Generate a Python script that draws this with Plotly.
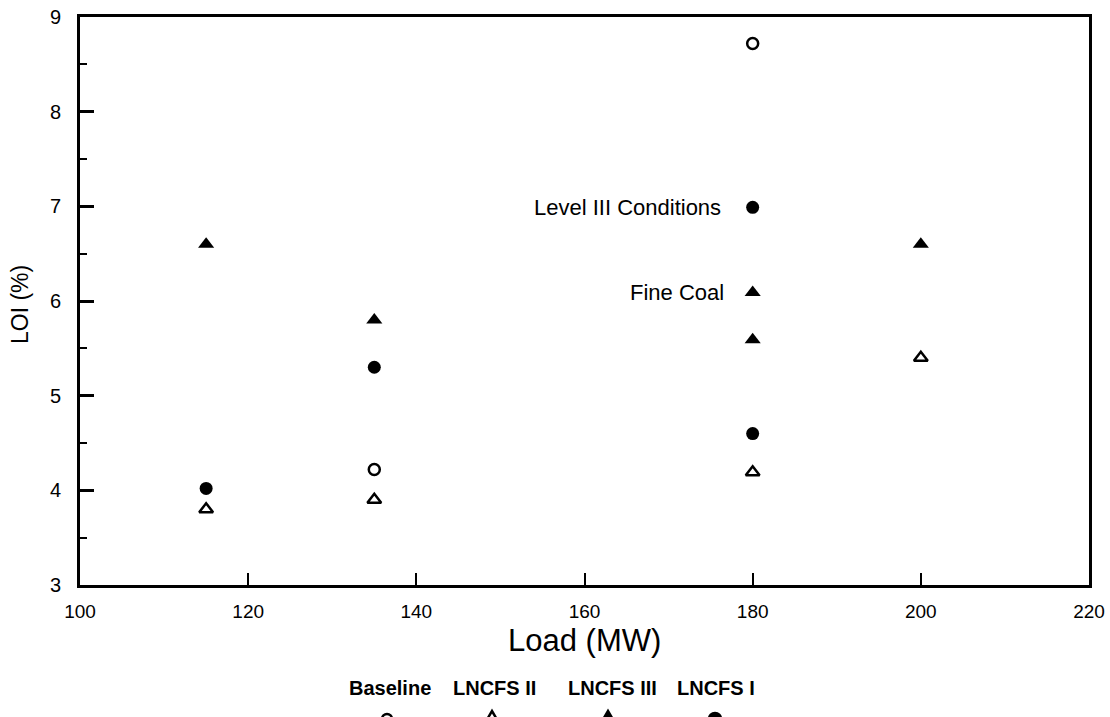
import plotly.graph_objects as go

# Data
baseline_x = [180, 135]
baseline_y = [8.72, 4.22]
lncfs2_x = [115, 135, 180, 200]
lncfs2_y = [3.80, 3.90, 4.19, 5.40]
lncfs3_x = [115, 135, 180, 180, 200]
lncfs3_y = [6.60, 5.80, 6.09, 5.59, 6.60]
lncfs1_x = [115, 135, 180, 180]
lncfs1_y = [4.02, 5.30, 6.99, 4.60]

x_ticks = [100, 120, 140, 160, 180, 200, 220]
y_ticks = [3, 4, 5, 6, 7, 8, 9]

FONT = "Liberation Sans, Arial, sans-serif"

# plot area in pixels
L, R, T, B = 80, 1089, 17, 585
W, H = 1110, 717


def px2paper(px, py):
    return (px - L) / (R - L), (B - py) / (B - T)


fig = go.Figure()
fig.add_trace(go.Scatter(x=baseline_x, y=baseline_y, mode="markers", name="Baseline",
                         marker=dict(symbol="circle-open", size=11, color="black", line=dict(width=2.5))))
fig.add_trace(go.Scatter(x=lncfs2_x, y=lncfs2_y, mode="markers", name="LNCFS II",
                         marker=dict(symbol="triangle-up-open", size=12, color="black", line=dict(width=2.5))))
fig.add_trace(go.Scatter(x=lncfs3_x, y=lncfs3_y, mode="markers", name="LNCFS III",
                         marker=dict(symbol="triangle-up", size=14, color="black")))
fig.add_trace(go.Scatter(x=lncfs1_x, y=lncfs1_y, mode="markers", name="LNCFS I",
                         marker=dict(symbol="circle", size=13, color="black")))

# In-plot labels
fig.add_annotation(x=180, y=lncfs1_y[2], text="Level III Conditions", xref="x", yref="y",
                   xanchor="right", xshift=-30, showarrow=False,
                   font=dict(family=FONT, size=22, color="black"))
fig.add_annotation(x=180, y=lncfs3_y[2], text="Fine Coal", xref="x", yref="y",
                   xanchor="right", xshift=-27, showarrow=False,
                   font=dict(family=FONT, size=22, color="black"))

# Axis titles
ax, ay = px2paper(584, 640)
fig.add_annotation(x=ax, y=ay, xref="paper", yref="paper", text="Load (MW)", showarrow=False,
                   xanchor="center", yanchor="middle", font=dict(family=FONT, size=31, color="black"))
ax, ay = px2paper(20, 305)
fig.add_annotation(x=ax, y=ay, xref="paper", yref="paper", text="LOI (%)", showarrow=False,
                   textangle=-90, xanchor="center", yanchor="middle",
                   font=dict(family=FONT, size=23, color="black"))

# Custom legend (text above key symbols; keys partly cut by the page edge as in the scan)
legend_labels = ["Baseline", "LNCFS II", "LNCFS III", "LNCFS I"]
legend_text_x = [390, 494, 612, 716]
legend_key_x = [387, 492, 608, 715]
legend_key_kind = ["circle-open", "tri-open", "tri-filled", "circle-filled"]
for label, tx, kx, kind in zip(legend_labels, legend_text_x, legend_key_x, legend_key_kind):
    ax, ay = px2paper(tx, 688)
    fig.add_annotation(x=ax, y=ay, xref="paper", yref="paper",
                       text="<b>" + label + "</b>", showarrow=False, xanchor="center", yanchor="middle",
                       font=dict(family=FONT, size=20, color="black"))
    cy = 719
    if kind.startswith("circle"):
        filled = kind.endswith("filled")
        r = 6 if filled else 5
        x0, y0 = px2paper(kx - r, cy + r)
        x1, y1 = px2paper(kx + r, cy - r)
        fig.add_shape(type="circle", xref="paper", yref="paper", x0=x0, y0=y0, x1=x1, y1=y1,
                      line=dict(color="black", width=2.5),
                      fillcolor="black" if filled else "white")
    else:
        filled = kind.endswith("filled")
        ax0, ay0 = px2paper(kx - 7, cy + 4)
        ax1, ay1 = px2paper(kx + 7, cy + 4)
        ax2, ay2 = px2paper(kx, cy - 8)
        fig.add_shape(type="path", xref="paper", yref="paper",
                      path=f"M {ax0} {ay0} L {ax1} {ay1} L {ax2} {ay2} Z",
                      line=dict(color="black", width=2.5),
                      fillcolor="black" if filled else "white")

fig.update_xaxes(range=[100, 220], tickvals=x_ticks, ticktext=[str(v) for v in x_ticks],
                 showline=True, linecolor="black", linewidth=3, mirror=True,
                 ticks="inside", ticklen=12, tickwidth=1.5, tickcolor="black",
                 showgrid=False, zeroline=False, ticklabelstandoff=7,
                 tickfont=dict(family=FONT, size=19, color="black"))
fig.update_yaxes(range=[3, 9], tickvals=y_ticks, ticktext=[str(v) for v in y_ticks],
                 showline=True, linecolor="black", linewidth=3, mirror=True,
                 ticks="inside", ticklen=14, tickwidth=2.5, tickcolor="black",
                 minor=dict(dtick=0.5, ticks="inside", ticklen=7, tickwidth=2, tickcolor="black"),
                 showgrid=False, zeroline=False, ticklabelstandoff=12,
                 tickfont=dict(family=FONT, size=20, color="black"))

fig.update_layout(width=W, height=H,
                  margin=dict(l=L, r=W - R, t=T, b=H - B, autoexpand=False),
                  plot_bgcolor="white", paper_bgcolor="white", showlegend=False)

fig.write_html("out.html")
